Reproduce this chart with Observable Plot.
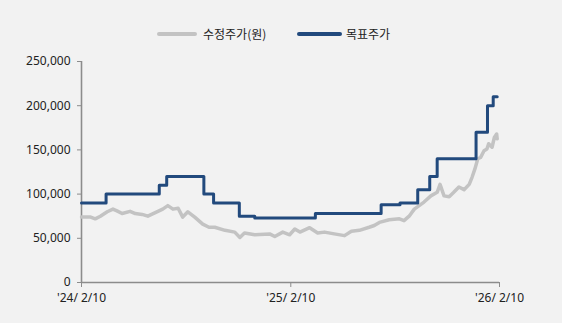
<!DOCTYPE html>
<html>
<head>
<meta charset="utf-8">
<script src="https://cdn.jsdelivr.net/npm/d3@7"></script>
<script src="https://cdn.jsdelivr.net/npm/@observablehq/plot@0.6"></script>
<style>
  html, body { margin: 0; padding: 0; background: #f2f2f2; }
  body { width: 562px; height: 323px; overflow: hidden; font-family: 'Noto Sans', 'Noto Sans CJK KR', sans-serif; }
  #legend { position: relative; height: 50px; }
  .sw { position: absolute; top: 32px; height: 4px; border-radius: 2px; }
  .lt { position: absolute; top: 25px; font-size: 12px; color: #222; font-family: 'Noto Sans CJK KR', sans-serif; line-height: 18px; }
</style>
</head>
<body>
<div id="legend"></div>
<div id="chart"></div>
<script>
// Series names
const seriesNames = ["수정주가(원)", "목표주가"];
const seriesColors = ["#c3c3c3", "#224a7d"];

// Adjusted share price (원)
const priceDates = [
  "2024-02-10","2024-02-26","2024-03-05","2024-03-14","2024-03-26","2024-04-05","2024-04-12","2024-04-21",
  "2024-05-05","2024-05-14","2024-05-26","2024-06-05","2024-06-18","2024-07-01","2024-07-10","2024-07-19",
  "2024-07-28","2024-08-05","2024-08-14","2024-08-26","2024-09-09","2024-09-20","2024-09-30","2024-10-18",
  "2024-11-04","2024-11-13","2024-11-21","2024-12-09","2025-01-04","2025-01-13","2025-01-27","2025-02-08",
  "2025-02-17","2025-02-26","2025-03-15","2025-03-29","2025-04-10","2025-04-27","2025-05-15","2025-05-27",
  "2025-06-10","2025-06-27","2025-07-06","2025-07-15","2025-08-01","2025-08-19","2025-08-27","2025-09-05",
  "2025-09-14","2025-10-01","2025-10-13","2025-10-24","2025-10-29","2025-11-05","2025-11-14","2025-11-22",
  "2025-12-01","2025-12-10","2025-12-19","2025-12-24","2025-12-29","2026-01-03","2026-01-08","2026-01-14",
  "2026-01-19","2026-01-22","2026-01-28","2026-02-01","2026-02-03","2026-02-05","2026-02-06"
];
const priceValues = [
  74000,74000,72000,75000,80000,83000,81000,78000,
  80500,78000,77000,75000,79000,83000,87000,83000,
  84000,74000,80000,74000,66000,62500,62500,59000,
  57000,51000,56000,54000,55000,52000,57000,54000,
  60500,57000,62000,56000,57000,55000,53000,58000,
  59000,62500,64500,68000,71000,72000,70000,75000,
  83000,91000,98000,102000,111000,98000,97000,102000,
  108000,105000,111000,119000,128500,140000,141500,149000,
  151000,157000,153000,164000,166000,168000,162500
];

// Target price (원), step changes
const targetDates = [
  "2024-02-10","2024-03-24","2024-06-25","2024-07-08","2024-09-11","2024-09-28","2024-11-12","2024-12-09",
  "2025-03-25","2025-07-18","2025-08-20","2025-09-20","2025-10-11","2025-10-24","2025-12-31","2026-01-20",
  "2026-01-30","2026-02-06"
];
const targetValues = [
  90000,100000,110000,120000,100000,90000,75000,73000,
  78000,88000,90000,105000,120000,140000,170000,200000,
  210000,210000
];

// Axes
const yTicks = [0, 50000, 100000, 150000, 200000, 250000];
const xTickDates = ["2024-02-10", "2025-02-10", "2026-02-10"];
const xTickLabels = ["'24/ 2/10", "'25/ 2/10", "'26/ 2/10"];

// Build tables
const priceData = priceDates.map((d, i) => ({date: new Date(d), value: priceValues[i]}));
const targetData = targetDates.map((d, i) => ({date: new Date(d), value: targetValues[i]}));
const xTicks = xTickDates.map(d => new Date(d));

// Legend
const legend = document.getElementById("legend");
const legendPos = [{sw: 157, w: 40, t: 203}, {sw: 297, w: 45, t: 346}];
seriesNames.forEach((name, i) => {
  const s = document.createElement("div");
  s.className = "sw";
  s.style.left = legendPos[i].sw + "px";
  s.style.width = legendPos[i].w + "px";
  s.style.background = seriesColors[i];
  legend.appendChild(s);
  const t = document.createElement("div");
  t.className = "lt";
  t.style.left = legendPos[i].t + "px";
  t.textContent = name;
  legend.appendChild(t);
});

const axisColor = "#8c8c8c";
const chart = Plot.plot({
  width: 562,
  height: 273,
  marginLeft: 81,
  marginRight: 63,
  marginTop: 11,
  marginBottom: 41,
  style: {background: "transparent", fontFamily: "'Noto Sans', 'Noto Sans CJK KR', sans-serif", fontSize: "12px", color: "#222"},
  x: {type: "utc", domain: [xTicks[0], xTicks[xTicks.length - 1]]},
  y: {domain: [0, 250000]},
  marks: [
    Plot.axisY({ticks: yTicks, tickFormat: d3.format(","), tickSize: 4, tickPadding: 7, stroke: axisColor, fill: "#222", label: null}),
    Plot.axisX({ticks: xTicks, tickFormat: (d) => xTickLabels[xTicks.findIndex(t => +t === +d)], tickSize: 5, tickPadding: 6, stroke: axisColor, fill: "#222", label: null}),
    Plot.ruleX([xTicks[0]], {y1: 0, y2: 250000, stroke: axisColor, strokeWidth: 1.6}),
    Plot.ruleY([0], {x1: xTicks[0], x2: xTicks[xTicks.length - 1], stroke: axisColor, strokeWidth: 1.6}),
    Plot.line(priceData, {x: "date", y: "value", stroke: seriesColors[0], strokeWidth: 3.5, strokeLinejoin: "round"}),
    Plot.line(targetData, {x: "date", y: "value", curve: "step-after", stroke: seriesColors[1], strokeWidth: 3, strokeLinejoin: "round"})
  ]
});
document.getElementById("chart").appendChild(chart);
</script>
</body>
</html>
